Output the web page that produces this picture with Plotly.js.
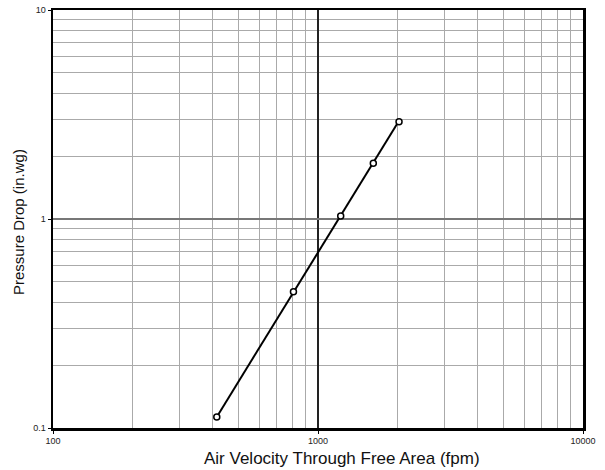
<!DOCTYPE html>
<html>
<head>
<meta charset="utf-8">
<script src="https://cdn.plot.ly/plotly-3.0.1.min.js"></script>
<style>html,body{margin:0;padding:0;background:#fff;}#chart{width:605px;height:470px;}</style>
</head>
<body>
<div id="chart"></div>
<script>
// Measured points
var velocity = [415, 808, 1218, 1617, 2022];
var pressure = [0.113, 0.449, 1.034, 1.85, 2.92];
// Fitted line endpoints
var fitVelocity = [415, 2022];
var fitPressure = [0.113, 2.95];
// Tick labels
var xTickVals = [100, 1000, 10000];
var xTickText = ['100', '1000', '10000'];
var yTickVals = [0.1, 1, 10];
var yTickText = ['0.1', '1', '10'];
var xTitle = 'Air Velocity Through Free Area (fpm)';
var yTitle = 'Pressure Drop (in.wg)';

var traces = [
  {x: fitVelocity, y: fitPressure, mode: 'lines', type: 'scatter',
   line: {color: '#000', width: 2}, hoverinfo: 'skip', showlegend: false},
  {x: velocity, y: pressure, mode: 'markers', type: 'scatter',
   marker: {symbol: 'circle', size: 6, color: '#fff', line: {color: '#000', width: 1.5}},
   showlegend: false}
];

var layout = {
  width: 605, height: 470,
  margin: {l: 53, r: 22, t: 10, b: 42},
  paper_bgcolor: '#fff', plot_bgcolor: '#fff',
  showlegend: false,
  font: {family: 'Liberation Sans, Arial, sans-serif', color: '#111'},
  xaxis: {
    type: 'log', range: [2, 4],
    tickvals: xTickVals, ticktext: xTickText,
    tickfont: {size: 9, color: '#222'},
    ticks: 'outside', ticklen: 3, tickcolor: '#000',
    showgrid: true, gridcolor: '#222', gridwidth: 1.5,
    minor: {dtick: 'D1', showgrid: true, gridcolor: '#aaaaaa', gridwidth: 1, ticks: ''},
    showline: true, linecolor: '#000', linewidth: 2.5, mirror: true,
    zeroline: false
  },
  yaxis: {
    type: 'log', range: [-1, 1],
    tickvals: yTickVals, ticktext: yTickText,
    tickfont: {size: 9, color: '#222'},
    ticks: 'outside', ticklen: 3, tickcolor: '#000',
    showgrid: true, gridcolor: '#777', gridwidth: 2,
    minor: {dtick: 'D1', showgrid: true, gridcolor: '#aaaaaa', gridwidth: 1, ticks: ''},
    showline: true, linecolor: '#000', linewidth: 2.5, mirror: true,
    zeroline: false
  },
  annotations: [
    {text: xTitle, xref: 'paper', yref: 'paper', x: 0.545, y: -0.072,
     xanchor: 'center', yanchor: 'middle', showarrow: false,
     font: {size: 17, color: '#111'}},
    {text: yTitle, xref: 'paper', yref: 'paper', x: -0.064, y: 0.493,
     xanchor: 'center', yanchor: 'middle', showarrow: false, textangle: -90,
     font: {size: 15, color: '#111'}}
  ]
};

Plotly.newPlot('chart', traces, layout, {displayModeBar: false, staticPlot: true});
</script>
</body>
</html>
